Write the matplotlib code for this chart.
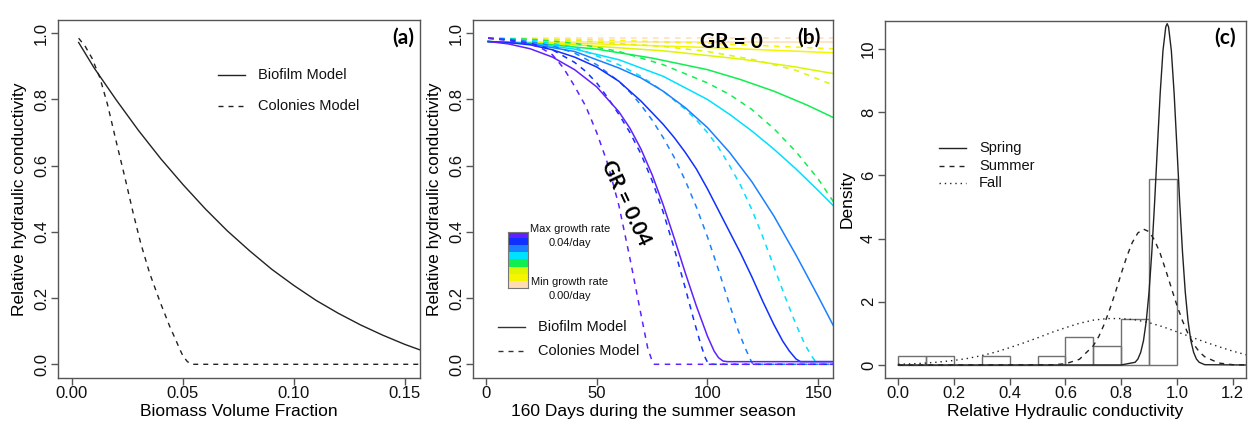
import numpy as np
import matplotlib
matplotlib.use("Agg")
import matplotlib.pyplot as plt
from matplotlib.lines import Line2D

plt.rcParams['font.family'] = ['Liberation Sans', 'DejaVu Sans']

W, H = 1253, 426

# ---------------- panel (a): K/K0 vs biomass volume fraction ----------------
a_bio_x = [0.003, 0.01, 0.02, 0.03, 0.04, 0.05, 0.06, 0.07, 0.08, 0.09, 0.10,
           0.11, 0.12, 0.13, 0.14, 0.15, 0.157]
a_bio_y = [0.972, 0.895, 0.798, 0.706, 0.621, 0.543, 0.470, 0.403, 0.343, 0.287, 0.238,
           0.193, 0.154, 0.119, 0.088, 0.060, 0.043]
a_col_x = [0.003, 0.006, 0.009, 0.0126, 0.016, 0.0201, 0.024, 0.0276, 0.031, 0.035, 0.0396,
           0.044, 0.047, 0.0486, 0.050, 0.052, 0.054, 0.157]
a_col_y = [0.985, 0.96, 0.925, 0.865, 0.785, 0.668, 0.56, 0.456, 0.365, 0.275, 0.19,
           0.115, 0.07, 0.045, 0.025, 0.008, 0.0, 0.0]

# ---------------- panel (b): K/K0 over the season, per growth rate ----------------
gr_colors = ['#6020ff', '#1030ff', '#1a80ff', '#00e0ff', '#10ee50', '#ddf500', '#f5f500', '#ffdcb4']

bio_days = [
    [1, 10, 20, 30, 40, 50, 60, 65, 70, 75, 80, 85, 90, 95, 100, 103, 105, 107, 109, 157],
    [1, 10, 20, 30, 40, 50, 60, 70, 80, 85, 90, 95, 100, 105, 110, 115, 120, 125, 130, 134, 137,
     140, 142, 157],
    [1, 20, 40, 60, 70, 80, 90, 100, 110, 120, 130, 140, 150, 157],
    [1, 20, 40, 60, 80, 100, 110, 120, 130, 140, 150, 157],
    [1, 25, 50, 75, 100, 115, 130, 145, 157],
    [1, 40, 80, 115, 140, 157],
    [1, 50, 100, 157],
    [1, 157],
]
bio_vals = [
    [0.975, 0.968, 0.953, 0.928, 0.89, 0.838, 0.763, 0.713, 0.65, 0.573, 0.482, 0.381, 0.276,
     0.176, 0.085, 0.04, 0.02, 0.01, 0.008, 0.008],
    [0.975, 0.972, 0.965, 0.95, 0.928, 0.898, 0.855, 0.795, 0.725, 0.685, 0.64, 0.59, 0.53, 0.465,
     0.40, 0.335, 0.265, 0.19, 0.12, 0.07, 0.04, 0.016, 0.008, 0.008],
    [0.975, 0.968, 0.945, 0.895, 0.865, 0.825, 0.775, 0.715, 0.64, 0.552, 0.448, 0.33, 0.205, 0.115],
    [0.975, 0.97, 0.952, 0.92, 0.87, 0.80, 0.755, 0.705, 0.65, 0.59, 0.525, 0.478],
    [0.975, 0.968, 0.952, 0.925, 0.89, 0.86, 0.825, 0.783, 0.745],
    [0.975, 0.965, 0.947, 0.922, 0.898, 0.878],
    [0.975, 0.968, 0.957, 0.941],
    [0.975, 0.975],
]
col_days = [
    [1, 10, 20, 25, 30, 35, 40, 45, 50, 55, 60, 65, 70, 73, 75, 76, 157],
    [1, 10, 20, 30, 40, 45, 50, 55, 60, 65, 70, 75, 80, 85, 90, 94, 97, 99, 100.5, 157],
    [1, 10, 20, 30, 40, 50, 60, 65, 70, 75, 80, 85, 90, 95, 100, 105, 110, 114, 117, 119, 120.5, 157],
    [1, 20, 40, 60, 70, 80, 90, 95, 100, 105, 110, 115, 120, 125, 130, 135, 140, 144, 147, 149, 150, 157],
    [1, 20, 40, 60, 80, 100, 110, 120, 130, 140, 150, 157],
    [1, 40, 80, 100, 121, 140, 157],
    [1, 50, 100, 157],
    [1, 157],
]
col_vals = [
    [0.985, 0.978, 0.967, 0.955, 0.935, 0.895, 0.84, 0.78, 0.70, 0.605, 0.48, 0.32, 0.15, 0.05,
     0.01, 0.0, 0.0],
    [0.985, 0.98, 0.97, 0.95, 0.912, 0.885, 0.85, 0.805, 0.755, 0.70, 0.635, 0.555, 0.46, 0.35,
     0.23, 0.13, 0.06, 0.02, 0.0, 0.0],
    [0.985, 0.982, 0.975, 0.962, 0.94, 0.905, 0.855, 0.822, 0.783, 0.738, 0.685, 0.625, 0.555,
     0.475, 0.385, 0.285, 0.18, 0.10, 0.05, 0.02, 0.0, 0.0],
    [0.985, 0.98, 0.958, 0.905, 0.87, 0.825, 0.77, 0.738, 0.70, 0.655, 0.60, 0.54, 0.468, 0.385,
     0.295, 0.205, 0.12, 0.06, 0.025, 0.007, 0.0, 0.0],
    [0.985, 0.982, 0.97, 0.945, 0.905, 0.85, 0.815, 0.77, 0.712, 0.642, 0.56, 0.49],
    [0.985, 0.978, 0.96, 0.945, 0.92, 0.888, 0.843],
    [0.985, 0.98, 0.97, 0.953],
    [0.985, 0.985],
]

# ---------------- panel (c): histogram + seasonal densities ----------------
hist_left = [0.0, 0.1, 0.2, 0.3, 0.4, 0.5, 0.6, 0.7, 0.8, 0.9]
hist_dens = [0.294, 0.294, 0.0, 0.294, 0.0, 0.294, 0.882, 0.588, 1.47, 5.88]

spring_x = [0.0, 0.80, 0.85, 0.86, 0.87, 0.88, 0.89, 0.90, 0.91, 0.92, 0.93, 0.94, 0.95, 0.96,
            0.965, 0.97, 0.98, 0.99, 1.00, 1.01, 1.02, 1.03, 1.04, 1.05, 1.06, 1.07, 1.08, 1.10, 1.25]
spring_y = [0.0, 0.002, 0.086, 0.19, 0.40, 0.77, 1.39, 2.31, 3.58, 5.15, 6.90, 8.6, 9.95, 10.7,
            10.8, 10.7, 9.95, 8.6, 6.9, 5.15, 3.58, 2.31, 1.39, 0.77, 0.40, 0.19, 0.086, 0.01, 0.0]
summer_x = [0.0, 0.55, 0.60, 0.65, 0.70, 0.72, 0.74, 0.76, 0.78, 0.80, 0.82, 0.84, 0.86, 0.88,
            0.90, 0.92, 0.94, 0.96, 0.98, 1.00, 1.02, 1.04, 1.06, 1.08, 1.10, 1.15, 1.20, 1.25]
summer_y = [0.0, 0.006, 0.039, 0.18, 0.61, 0.91, 1.31, 1.79, 2.32, 2.89, 3.43, 3.88, 4.18, 4.3,
            4.22, 3.95, 3.53, 3.0, 2.44, 1.89, 1.40, 0.99, 0.66, 0.42, 0.26, 0.062, 0.011, 0.0015]
fall_x = [0.00, 0.05, 0.10, 0.15, 0.20, 0.25, 0.30, 0.35, 0.40, 0.45, 0.50, 0.55, 0.60, 0.65,
          0.70, 0.75, 0.80, 0.85, 0.90, 0.95, 1.00, 1.05, 1.10, 1.15, 1.20, 1.25]
fall_y = [0.023, 0.038, 0.062, 0.098, 0.146, 0.21, 0.30, 0.41, 0.55, 0.70, 0.86, 1.03, 1.18, 1.32,
          1.42, 1.47, 1.47, 1.43, 1.34, 1.21, 1.05, 0.89, 0.73, 0.58, 0.44, 0.32]

DASH = (0, (3.6, 3.6))
DOT = (0, (1, 2.8))
FRAME = '#555555'
INK = '#222222'
BOLD = ['Lato', 'DejaVu Sans']


def px(x, y):
    return x / W, 1 - y / H


def style_axes(ax, xt, xl, yt, yl):
    for s in ax.spines.values():
        s.set_color(FRAME)
        s.set_linewidth(1)
    ax.set_xticks(xt)
    ax.set_xticklabels(xl)
    ax.set_yticks(yt)
    ax.set_yticklabels(yl)
    ax.tick_params(direction='out', length=5, width=1, color=FRAME, labelsize=12, labelcolor='#111')
    ax.tick_params(axis='x', pad=1)
    ax.tick_params(axis='y', pad=1.5, labelrotation=90)
    for lab in ax.get_yticklabels():
        lab.set_va('center')
    ax.xaxis.set_label_coords(0.5, -0.072)
    ax.yaxis.set_label_coords(-0.085, 0.5)


def legend_rows(fig, x0, x1, xt, ys, styles, labels, color=INK, size=10.5):
    for y, ls, lab in zip(ys, styles, labels):
        fig.add_artist(Line2D([x0 / W, x1 / W], [1 - y / H] * 2, color=color, lw=1, ls=ls))
        fig.text(xt / W, 1 - y / H, lab, ha='left', va='center', fontsize=size, color='#111')


fig = plt.figure(figsize=(W / 100, H / 100), dpi=100)

# (a)
ax1 = fig.add_axes([58 / W, 1 - 378 / H, 362 / W, 358 / H])
ax1.plot(a_bio_x, a_bio_y, color=INK, lw=1)
ax1.plot(a_col_x, a_col_y, color=INK, lw=1, ls=DASH)
ax1.set_xlim(-0.0063, 0.1568)
ax1.set_ylim(-0.0414, 1.040)
style_axes(ax1, [0, 0.05, 0.10, 0.15], ['0.00', '0.05', '0.10', '0.15'],
           [0, 0.2, 0.4, 0.6, 0.8, 1.0], ['0.0', '0.2', '0.4', '0.6', '0.8', '1.0'])
ax1.set_xlabel('Biomass Volume Fraction', fontsize=12.5, va='top')
ax1.set_ylabel('Relative hydraulic conductivity', fontsize=12.5)
legend_rows(fig, 218, 245, 258, [75, 105.7], ['-', DASH], ['Biofilm Model', 'Colonies Model'])
fig.text(*px(403, 38), '(a)', fontsize=15, fontweight='bold', family=BOLD, ha='center', va='center')

# (b)
ax2 = fig.add_axes([473 / W, 1 - 378 / H, 360 / W, 358 / H])
for i in range(len(gr_colors) - 1, -1, -1):
    ax2.plot(bio_days[i], bio_vals[i], color=gr_colors[i], lw=1.1)
    ax2.plot(col_days[i], col_vals[i], color=gr_colors[i], lw=1.1, ls=DASH)
ax2.set_xlim(-5.87, 156.7)
ax2.set_ylim(-0.0414, 1.040)
style_axes(ax2, [0, 50, 100, 150], ['0', '50', '100', '150'],
           [0, 0.2, 0.4, 0.6, 0.8, 1.0], ['0.0', '0.2', '0.4', '0.6', '0.8', '1.0'])
ax2.set_xlabel('160 Days during the summer season', fontsize=12.5, va='top')
ax2.set_ylabel('Relative hydraulic conductivity', fontsize=12.5)
legend_rows(fig, 498, 525, 538.3, [327.3, 350.7], ['-', DASH], ['Biofilm Model', 'Colonies Model'],
            color='#333333', size=10.5)
fig.text(*px(809, 38), '(b)', fontsize=15, fontweight='bold', family=BOLD, ha='center', va='center')
fig.text(*px(731, 42), 'GR = 0', fontsize=15, fontweight='bold', family=BOLD, ha='center', va='center')
fig.text(*px(626, 203), 'GR = 0.04', fontsize=15, fontweight='bold', family=BOLD,
         ha='center', va='center', rotation=-65, rotation_mode='anchor')

# colour key for growth rate
cax = fig.add_axes([508.3 / W, 1 - 288.3 / H, 20 / W, 56.6 / H])
cax.imshow(np.arange(len(gr_colors)).reshape(-1, 1),
           cmap=matplotlib.colors.ListedColormap(gr_colors), aspect='auto',
           interpolation='nearest')
cax.set_xticks([])
cax.set_yticks([])
for s in cax.spines.values():
    s.set_color('#777777')
    s.set_linewidth(0.8)
for (x, y), t in zip([(570, 229), (570, 242.7), (570, 282.3), (570, 295.7)],
                     ['Max growth rate', '0.04/day', 'Min growth rate', '0.00/day']):
    fig.text(*px(x, y), t, fontsize=8, ha='center', va='center', color='#111')

# (c)
ax3 = fig.add_axes([885 / W, 1 - 378 / H, 361 / W, 357 / H])
ax3.bar(hist_left, hist_dens, width=0.1, align='edge', fill=False, edgecolor='#707070', lw=1)
ax3.plot(spring_x, spring_y, color=INK, lw=1)
ax3.plot(summer_x, summer_y, color=INK, lw=1, ls=DASH)
ax3.plot(fall_x, fall_y, color=INK, lw=1, ls=DOT)
ax3.set_xlim(-0.0478, 1.248)
ax3.set_ylim(-0.411, 10.886)
style_axes(ax3, [0, 0.2, 0.4, 0.6, 0.8, 1.0, 1.2], ['0.0', '0.2', '0.4', '0.6', '0.8', '1.0', '1.2'],
           [0, 2, 4, 6, 8, 10], ['0', '2', '4', '6', '8', '10'])
ax3.set_xlabel('Relative Hydraulic conductivity', fontsize=12.5, va='top')
ax3.set_ylabel('Density', fontsize=12.5)
legend_rows(fig, 939, 966, 979, [148, 166, 183], ['-', DASH, DOT], ['Spring', 'Summer', 'Fall'])
fig.text(*px(1225, 38), '(c)', fontsize=15, fontweight='bold', family=BOLD, ha='center', va='center')

fig.savefig('out.png', dpi=100)
